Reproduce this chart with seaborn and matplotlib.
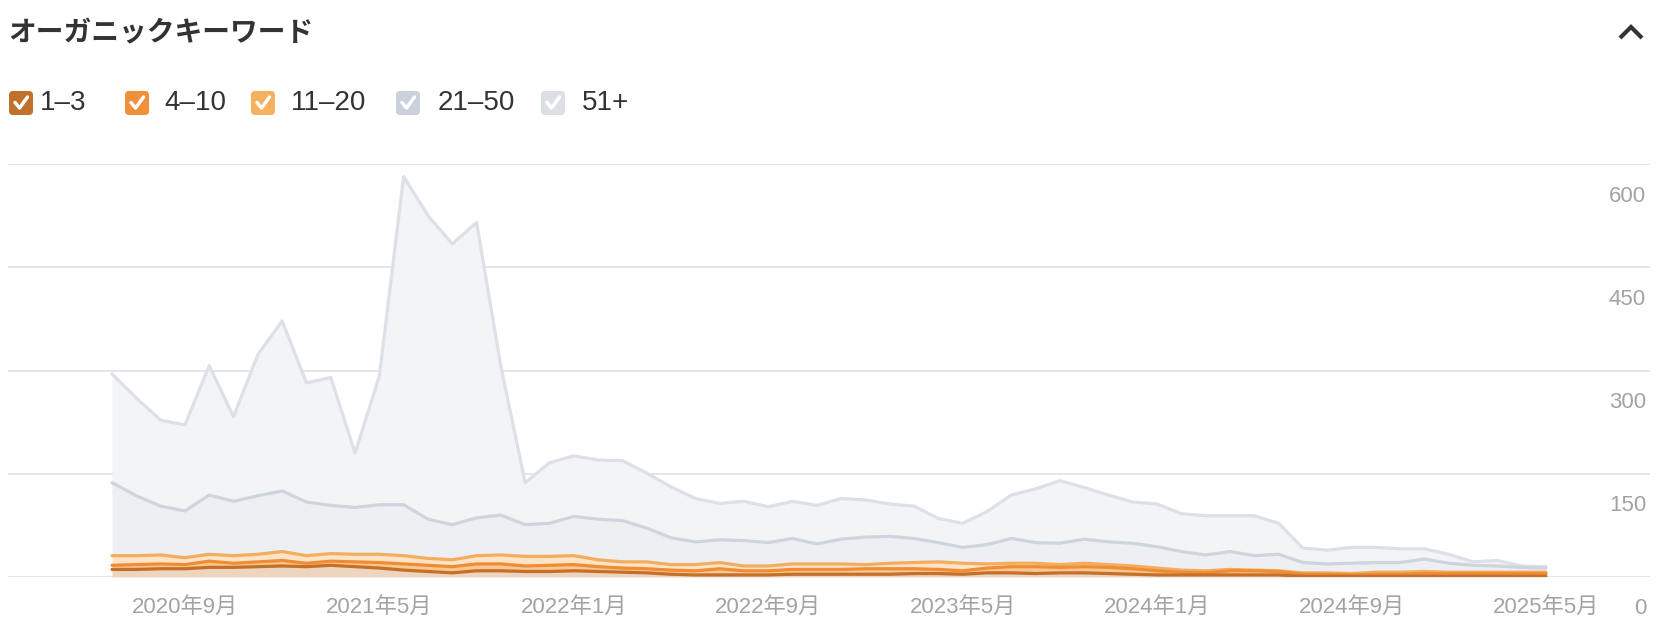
import numpy as np
import pandas as pd
import matplotlib
matplotlib.use("Agg")
import matplotlib.pyplot as plt
import matplotlib.transforms as mtransforms
from matplotlib.patches import FancyBboxPatch
from matplotlib.lines import Line2D
import seaborn as sns

# monthly keyword counts per ranking band, Jun 2020 .. May 2025
months = pd.period_range("2020-06", "2025-05", freq="M")
bands = ["1–3", "4–10", "11–20", "21–50", "51+"]

pos_1_3 = [11, 11, 12, 12, 14, 14, 15, 16, 15, 17, 15, 13, 10, 8, 6, 9, 9, 8, 8, 9,
           8, 7, 6, 4, 3, 3, 3, 3, 4, 4, 4, 4, 4, 5, 5, 4, 6, 6, 5, 6,
           6, 5, 4, 3, 3, 3, 3, 3, 3, 1, 1, 1, 1, 1, 1, 1, 1, 1, 1, 1]
pos_4_10 = [6, 7, 7, 6, 9, 6, 7, 8, 5, 6, 7, 8, 9, 9, 9, 10, 10, 8, 9, 9,
            7, 6, 6, 6, 6, 9, 6, 6, 7, 7, 7, 8, 8, 7, 6, 5, 7, 9, 10, 8,
            9, 9, 8, 6, 4, 3, 6, 6, 5, 3, 3, 2, 3, 3, 4, 4, 4, 4, 4, 4]
pos_11_20 = [14, 13, 13, 10, 10, 11, 11, 13, 11, 11, 11, 12, 12, 10, 10, 12, 13, 14, 13, 13,
             10, 9, 10, 8, 9, 9, 7, 7, 8, 8, 8, 6, 8, 9, 11, 11, 6, 5, 5, 4,
             5, 4, 4, 4, 3, 3, 2, 1, 1, 2, 2, 2, 3, 3, 3, 2, 2, 2, 2, 2]
pos_21_50 = [106, 87, 71, 68, 86, 79, 85, 88, 78, 70, 68, 72, 74, 57, 51, 55, 58, 46, 48, 57,
             59, 60, 49, 39, 33, 33, 37, 34, 37, 29, 36, 40, 39, 35, 28, 23, 28, 36, 30, 31,
             35, 33, 33, 31, 27, 23, 26, 21, 24, 15, 13, 15, 14, 14, 18, 13, 10, 9, 7, 6]
pos_51 = [158, 142, 125, 125, 188, 123, 205, 247, 173, 186, 79, 187, 477, 441, 408, 429, 216, 61, 88, 88,
          86, 87, 80, 74, 63, 53, 57, 52, 54, 56, 59, 54, 47, 47, 35, 35, 48, 63, 78, 91,
          75, 68, 60, 62, 55, 57, 52, 58, 45, 21, 20, 23, 22, 20, 15, 13, 5, 8, 2, 2]

tick_months = ["2020-09", "2021-05", "2022-01", "2022-09", "2023-05", "2024-01", "2024-09", "2025-05"]
y_ticks = [0, 150, 300, 450, 600]

line_colors = {"1–3": "#c4702a", "4–10": "#f08c33", "11–20": "#f3ad5f",
               "21–50": "#cfd5dd", "51+": "#dce0e7"}
fill_colors = {"1–3": "#edd5c0", "4–10": "#f8c792", "11–20": "#fde4c8",
               "21–50": "#edeff3", "51+": "#f3f4f6"}
box_colors = {"1–3": "#c0712a", "4–10": "#f0913a", "11–20": "#f5b060",
              "21–50": "#cbd1da", "51+": "#dce0e6"}

df = pd.DataFrame({"1–3": pos_1_3, "4–10": pos_4_10, "11–20": pos_11_20,
                   "21–50": pos_21_50, "51+": pos_51})
df["idx"] = np.arange(len(months))
cum = df[bands].cumsum(axis=1)
cum["idx"] = df["idx"]
long = cum.melt(id_vars="idx", var_name="band", value_name="total")

sns.set_theme(style="white")
plt.rcParams["font.family"] = ["Liberation Sans", "Noto Sans CJK JP"]

W, H = 1660, 644
fig = plt.figure(figsize=(W / 100, H / 100), dpi=100)
ax = fig.add_axes([8 / W, 1 - 577 / H, 1642 / W, 413 / H])

# stacked fills
lower = np.zeros(len(df))
for b in bands:
    upper = cum[b].values
    ax.fill_between(df["idx"], lower, upper, color=fill_colors[b], linewidth=0, zorder=1)
    lower = upper

# stack outlines, grey bands first so the orange ones sit on top
sns.lineplot(data=long, x="idx", y="total", hue="band", hue_order=bands[::-1],
             palette=line_colors, linewidth=2.3, legend=False, ax=ax, zorder=3)

ax.set_xlim(-4.28, len(months) - 1 + 4.28)
ax.set_ylim(0, 600)
for s in ax.spines.values():
    s.set_visible(False)
ax.set_xlabel("")
ax.set_ylabel("")

for v in y_ticks:
    ax.axhline(v, color="#e6e6e6", linewidth=1.4, zorder=0)

# x tick labels
tick_idx = [list(months.astype(str)).index(m) for m in tick_months]
tick_lbl = [f"{int(m[:4])}年{int(m[5:])}月" for m in tick_months]
ax.set_xticks(tick_idx)
ax.set_xticklabels(tick_lbl, fontsize=16, color="#a3a3a3")
ax.set_yticks([])
ax.tick_params(axis="x", length=0, pad=14)

# y labels sit under their gridlines on the right
off = mtransforms.ScaledTranslation(-4 / 100, -32 / 100, fig.dpi_scale_trans)
trans = mtransforms.blended_transform_factory(ax.transAxes, ax.transData) + off
for v in y_ticks:
    ax.text(1.0, v, str(v), transform=trans, ha="right", va="center",
            fontsize=16, color="#a3a3a3")

# title
fig.text(8 / W, 1 - 33 / H, "オーガニックキーワード", fontsize=20, fontweight="bold",
         color="#333333", va="center", ha="left",
         family=["Noto Sans CJK JP", "DejaVu Sans"])

# collapse chevron
fig.add_artist(Line2D([1620 / W, 1631 / W, 1642 / W], [1 - 38 / H, 1 - 27 / H, 1 - 38 / H],
                      transform=fig.transFigure, color="#333333", linewidth=3.0,
                      solid_capstyle="butt", solid_joinstyle="miter"))

# checkbox legend
box_x = [9, 125, 251, 396, 541]
text_x = [40, 164, 291, 438, 582]
cy = 103
for b, bx, tx in zip(bands, box_x, text_x):
    box = FancyBboxPatch((bx, H - cy - 12), 24, 24,
                         boxstyle="round,pad=0,rounding_size=4",
                         transform=mtransforms.IdentityTransform(),
                         facecolor=box_colors[b], edgecolor="none")
    fig.add_artist(box)
    fig.add_artist(Line2D([bx + 6, bx + 10.5, bx + 18.5],
                          [H - cy + 0.5, H - cy - 5, H - cy + 6],
                          transform=mtransforms.IdentityTransform(),
                          color="white", linewidth=2.5, solid_capstyle="round"))
    fig.text(tx / W, 1 - cy / H, b, fontsize=20, color="#333333", va="center", ha="left")

fig.savefig("out.png", dpi=100)
